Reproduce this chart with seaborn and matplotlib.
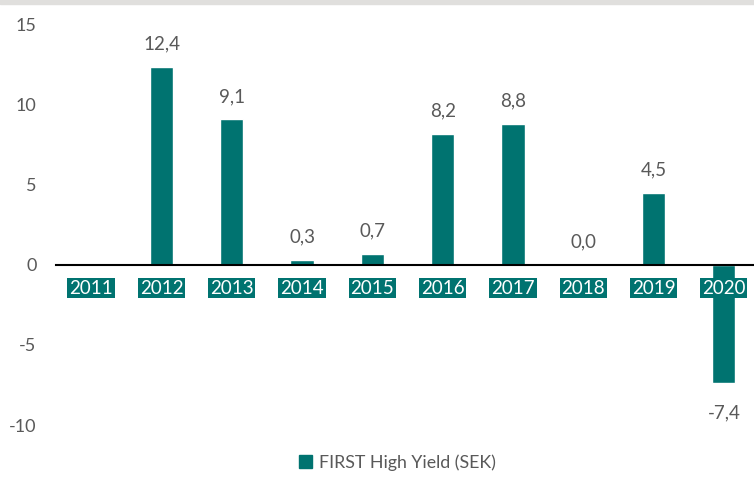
import seaborn as sns
import matplotlib.pyplot as plt
import pandas as pd
from matplotlib.patches import Patch, Rectangle

# ---- data ----
years = ["2011", "2012", "2013", "2014", "2015", "2016", "2017", "2018", "2019", "2020"]
values = [None, 12.4, 9.1, 0.3, 0.7, 8.2, 8.8, 0.0, 4.5, -7.4]
value_labels = ["", "12,4", "9,1", "0,3", "0,7", "8,2", "8,8", "0,0", "4,5", "-7,4"]
series_name = "FIRST High Yield (SEK)"
yticks = [-10, -5, 0, 5, 10, 15]

TEAL = "#007370"
GREY = "#595959"
FONT = ["Lato", "DejaVu Sans"]

sns.set_style("white")
plt.rcParams["font.family"] = FONT

df = pd.DataFrame({"year": years, "value": values})

fig = plt.figure(figsize=(7.54, 4.80), dpi=100)
ax = fig.add_axes([56 / 754, 1 - 425 / 480, 703 / 754, 400 / 480])

sns.barplot(data=df, x="year", y="value", color=TEAL, saturation=1,
            width=0.33, ax=ax)

ax.set_ylim(-10, 15)
ax.set_yticks(yticks)
ax.set_yticklabels([str(t) for t in yticks])
ax.set_xlabel("")
ax.set_ylabel("")
ax.set_axisbelow(False)  # category labels drawn over the negative bar

# zero line as the x axis, category labels in teal boxes
for side in ["top", "right", "left"]:
    ax.spines[side].set_visible(False)
ax.spines["bottom"].set_position(("data", 0))
ax.spines["bottom"].set_color("black")
ax.spines["bottom"].set_linewidth(1.5)

ax.tick_params(axis="y", length=0, pad=14, labelsize=13, labelcolor=GREY)
ax.tick_params(axis="x", length=0, pad=10.5, labelsize=13.5, labelcolor="white")
for lbl in ax.get_xticklabels():
    lbl.set_bbox(dict(boxstyle="square,pad=0.1", fc=TEAL, ec="none"))

# ---- value labels ----
for i, (v, txt) in enumerate(zip(values, value_labels)):
    if v is None:
        continue
    off = 16.5 if v >= 0 else -21
    ax.annotate(txt, xy=(i, v), xytext=(0, off), textcoords="offset points",
                ha="center", va="center", fontsize=13.5, color=GREY)

# ---- legend ----
fig.legend(handles=[Patch(color=TEAL, label=series_name)],
           loc="lower center", bbox_to_anchor=(0.527, -0.014), frameon=False,
           handlelength=0.75, handleheight=0.75, handletextpad=0.35,
           labelcolor=GREY, fontsize=12.8)

# grey strip along the top edge
fig.patches.append(Rectangle((0, 1 - 4 / 480), 1, 4 / 480, transform=fig.transFigure,
                             color="#e0dfdd", zorder=0))

fig.savefig("out.png", dpi=100)
